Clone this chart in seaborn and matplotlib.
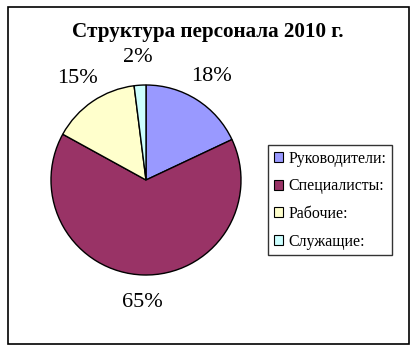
import matplotlib
matplotlib.use("Agg")
import matplotlib.pyplot as plt
import seaborn as sns
from matplotlib.patches import Rectangle

categories = ["Руководители:", "Специалисты:", "Рабочие:", "Служащие:"]
values = [18, 65, 15, 2]
colors = ["#9999FF", "#993366", "#FFFFCC", "#CCFFFF"]
title = "Структура персонала 2010 г."

sns.set_theme(style="white")
plt.rcParams["font.family"] = ["Liberation Serif", "DejaVu Serif"]
plt.rcParams["text.color"] = "black"

W, H = 416, 352
fig = plt.figure(figsize=(W / 100, H / 100), dpi=100)
fig.patch.set_facecolor("white")

# outer frame
fig.add_artist(Rectangle((8 / W, 1 - 344 / H), (409 - 8) / W, (344 - 7) / H,
                         transform=fig.transFigure, fill=False,
                         edgecolor="black", linewidth=1.2))

cx, cy, r = 146, 180, 95
ax = fig.add_axes([(cx - r) / W, 1 - (cy + r) / H, 2 * r / W, 2 * r / H])
wedges, texts, autotexts = ax.pie(
    values, colors=colors, startangle=90, counterclock=False,
    wedgeprops=dict(edgecolor="black", linewidth=1),
    autopct=lambda p: f"{p:.0f}%", pctdistance=1.29,
    textprops=dict(fontsize=16, color="black"))
for t in autotexts:
    t.set_ha("center")
    t.set_va("center")
ax.set_xlim(-1, 1)
ax.set_ylim(-1, 1)
ax.set_aspect("equal")
ax.axis("off")

fig.text(0.5, 1 - 32 / H, title, ha="center", va="center",
         fontsize=15.2, fontweight="bold", color="black")

leg = fig.legend(wedges, categories, loc="upper left",
                 bbox_to_anchor=(268 / W, 1 - 145 / H),
                 frameon=True, fancybox=False, fontsize=11.4,
                 handlelength=0.6, handleheight=0.6, handletextpad=0.35,
                 labelspacing=0.74, borderpad=0.35, borderaxespad=0)
leg.get_frame().set_edgecolor("black")
leg.get_frame().set_linewidth(1)
for t in leg.get_texts():
    t.set_color("black")
for h in leg.legend_handles:
    h.set_edgecolor("black")
    h.set_linewidth(0.8)

fig.savefig("out.png", dpi=100, facecolor="white")
